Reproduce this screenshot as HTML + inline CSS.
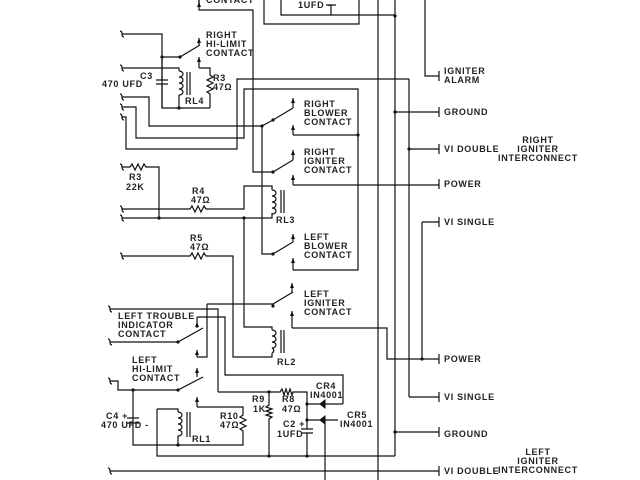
<!DOCTYPE html>
<html><head><meta charset="utf-8"><style>
html,body{margin:0;padding:0;background:#fff;}
svg{display:block;}
text{font-family:"Liberation Sans",sans-serif;font-size:9px;font-weight:bold;fill:#222;letter-spacing:0.7px;}
</style></head><body>
<svg width="640" height="480" viewBox="0 0 640 480" xmlns="http://www.w3.org/2000/svg">
<defs>
<path id="term" d="M-2,-3 Q0,-3 0,0 Q0,3 2,3" fill="none" stroke="#111" stroke-width="1.2"/>
</defs>
<g stroke="#111" stroke-width="1.2" fill="none">
<path d="M378,0V480 M395,0V456 M409,79V397 M422,222V359 M425,0V76H439"/>
<path d="M264,0V24H359V0 M281,0V15H395 M326,5H336 M331,5V15"/>
<path d="M199,0V10H253V172H273"/>
<path d="M122,34H162V108H210 M162,57H180 L200,45 M199,68H210V75 l3,2 -6,3 6,3 -6,3 6,3 -6,3 3,2 V108"/>
<path d="M122,68H179V71 M179,95V108 M156,80H168 M156,84H168 M162,57V80 M162,84V108"/>
<path d="M179,71 a4,3 0 1 1 0,6 a4,3 0 1 1 0,6 a4,3 0 1 1 0,6 a4,3 0 1 1 0,6 M187,72V95 M190,72V95"/>
<path d="M122,97H149V126H262 M122,107H136V138H244V89H358V135 M122,117H126V149H237V79H409"/>
<path d="M262,126V254H273 M262,126 L273,120 L293,108 M293,135H358"/>
<path d="M273,172 L293,160 M293,185H439"/>
<path d="M122,167H130 l2,-3 3,6 3,-6 3,6 3,-6 2,3 H159V218"/>
<path d="M122,209H190 l2,-3 3,6 3,-6 3,6 3,-6 2,3 H244V186H272V190 M122,218H272V213 M244,218V327H272V330 M272,190 a4,3 0 0 1 0,6 a4,3 0 0 1 0,6 a4,3 0 0 1 0,6 a4,3 0 0 1 0,6 V213 M281,190V213 M284,190V213"/>
<path d="M273,254 L293,242 M293,270H358V135"/>
<path d="M122,256H190 l2,-3 3,6 3,-6 3,6 3,-6 2,3 H233V357H272V353 M272,330 a4,3 0 0 1 0,6 a4,3 0 0 1 0,6 a4,3 0 0 1 0,6 a4,3 0 0 1 0,5 M281,330V353 M284,330V353"/>
<path d="M207,304H273 L293,292 M292,328H387V359H439 M207,304V357H197"/>
<path d="M110,309H218V392 M110,342H178 L203,328 M197,317H225V375H343V404 M197,317V322"/>
<path d="M110,381H118V390H178 L203,377 M197,407H243V415 l-3,2 6,3 -6,3 6,3 -6,3 3,2 V445H133V390 M133,390V418 M127,418H139 M127,423H139 M133,423V445"/>
<path d="M157,409V456H395 M157,409H178V412 M178,412 a4,3 0 0 1 0,6 a4,3 0 0 1 0,6 a4,3 0 0 1 0,6 a4,3 0 0 1 0,6 V445 M187,412V437 M190,412V437"/>
<path d="M269,392V405 l-3,2 6,2 -6,2 6,2 -6,2 6,2 -3,2 V456 M218,392H269 M269,392H280 l2,-3 2,6 2,-6 2,6 2,-6 2,6 1,-3 H307V429 M301,429H313 M301,433H313 M307,433V456 M307,404H320 M307,420H320 M343,404H325 M338,420H325 V480"/>
<path d="M395,112H439 M409,149H439 M422,222H439 M409,397H439 M395,432H439 M110,471H439"/>
<path d="M439,71V81 M439,107V117 M439,144V154 M439,179V189 M439,217V227 M439,354V364 M439,392V402 M439,427V437 M439,466V476"/>
</g>
<g fill="#111">
<path d="M320,404 l5,-4 v8z M325,400v8" stroke="#111"/>
<path d="M320,420 l5,-4 v8z M325,416v8" stroke="#111"/>
<path d="M199,2 l-2,5 h4z M199,38 l-2,5 h4z M199,57 l-2,5 h4z M293,98 l-2,5 h4z M293,125 l-2,5 h4z M293,150 l-2,5 h4z M293,175 l-2,5 h4z M293,234 l-2,5 h4z M293,258 l-2,5 h4z M292,283 l-2,5 h4z M292,311 l-2,5 h4z M197,322 l-2,5 h4z M197,350 l-2,5 h4z M197,368 l-2,5 h4z M197,397 l-2,5 h4z"/>
<path d="M199,0V7 M199,38V45 M199,57V68 M293,98V108 M293,125V135 M293,150V160 M293,175V185 M293,234V242 M293,258V270 M292,283V292 M292,311V328 M197,322V328 M197,350V357 M197,368V377 M197,397V407" stroke="#111" stroke-width="1.2"/>
<circle cx="162" cy="57" r="1.6"/><circle cx="179" cy="108" r="1.6"/><circle cx="262" cy="126" r="1.6"/><circle cx="358" cy="135" r="1.6"/>
<circle cx="159" cy="218" r="1.6"/><circle cx="244" cy="218" r="1.6"/><circle cx="395" cy="16" r="1.6"/><circle cx="395" cy="112" r="1.6"/>
<circle cx="409" cy="149" r="1.6"/><circle cx="422" cy="359" r="1.6"/><circle cx="395" cy="432" r="1.6"/><circle cx="133" cy="390" r="1.6"/>
<circle cx="178" cy="445" r="1.6"/><circle cx="269" cy="392" r="1.6"/><circle cx="307" cy="404" r="1.6"/><circle cx="307" cy="420" r="1.6"/>
<circle cx="269" cy="456" r="1.6"/><circle cx="307" cy="456" r="1.6"/><circle cx="273" cy="120" r="1.6"/><circle cx="273" cy="172" r="1.6"/><circle cx="273" cy="254" r="1.6"/><circle cx="273" cy="306" r="1.6"/><circle cx="178" cy="342" r="1.6"/><circle cx="178" cy="390" r="1.6"/><circle cx="180" cy="57" r="1.6"/>
</g>
<g>
<use href="#term" x="122" y="34"/><use href="#term" x="122" y="68"/><use href="#term" x="122" y="97"/><use href="#term" x="122" y="107"/><use href="#term" x="122" y="117"/><use href="#term" x="122" y="167"/><use href="#term" x="122" y="209"/><use href="#term" x="122" y="218"/><use href="#term" x="122" y="256"/><use href="#term" x="110" y="309"/><use href="#term" x="110" y="342"/><use href="#term" x="110" y="381"/><use href="#term" x="110" y="471"/>
</g>
<text x="206" y="3">CONTACT</text>
<text x="298" y="8">1UFD -</text>
<text x="206" y="38">RIGHT</text><text x="206" y="47">HI-LIMIT</text><text x="206" y="56">CONTACT</text>
<text x="140" y="79">C3</text><text x="102" y="87">470 UFD</text>
<text x="213" y="81">R3</text><text x="213" y="90">47Ω</text><text x="185" y="104">RL4</text>
<text x="304" y="107">RIGHT</text><text x="304" y="116">BLOWER</text><text x="304" y="125">CONTACT</text>
<text x="304" y="155">RIGHT</text><text x="304" y="164">IGNITER</text><text x="304" y="173">CONTACT</text>
<text x="129" y="180">R3</text><text x="126" y="190">22K</text>
<text x="192" y="194">R4</text><text x="191" y="203">47Ω</text><text x="276" y="223">RL3</text>
<text x="304" y="240">LEFT</text><text x="304" y="249">BLOWER</text><text x="304" y="258">CONTACT</text>
<text x="190" y="241">R5</text><text x="190" y="250">47Ω</text>
<text x="304" y="297">LEFT</text><text x="304" y="306">IGNITER</text><text x="304" y="315">CONTACT</text>
<text x="118" y="319">LEFT TROUBLE</text><text x="118" y="328">INDICATOR</text><text x="118" y="337">CONTACT</text>
<text x="277" y="365">RL2</text>
<text x="132" y="363">LEFT</text><text x="132" y="372">HI-LIMIT</text><text x="132" y="381">CONTACT</text>
<text x="106" y="419">C4 +</text><text x="101" y="428">470 UFD -</text>
<text x="220" y="419">R10</text><text x="220" y="428">47Ω</text><text x="192" y="442">RL1</text>
<text x="252" y="402">R9</text><text x="253" y="412">1K</text>
<text x="282" y="402">R8</text><text x="282" y="412">47Ω</text>
<text x="283" y="427">C2 +</text><text x="277" y="437">1UFD</text>
<text x="316" y="389">CR4</text><text x="310" y="398">IN4001</text>
<text x="347" y="418">CR5</text><text x="340" y="427">IN4001</text>
<text x="444" y="74">IGNITER</text><text x="444" y="83">ALARM</text>
<text x="444" y="115">GROUND</text><text x="444" y="152">VI DOUBLE</text><text x="444" y="187">POWER</text><text x="444" y="225">VI SINGLE</text>
<text x="444" y="362">POWER</text><text x="444" y="400">VI SINGLE</text><text x="444" y="437">GROUND</text><text x="444" y="474">VI DOUBLE</text>
<g text-anchor="middle">
<text x="538" y="143">RIGHT</text><text x="538" y="152">IGNITER</text><text x="538" y="161">INTERCONNECT</text>
<text x="538" y="455">LEFT</text><text x="538" y="464">IGNITER</text><text x="538" y="473">INTERCONNECT</text>
</g>
</svg>
</body></html>
